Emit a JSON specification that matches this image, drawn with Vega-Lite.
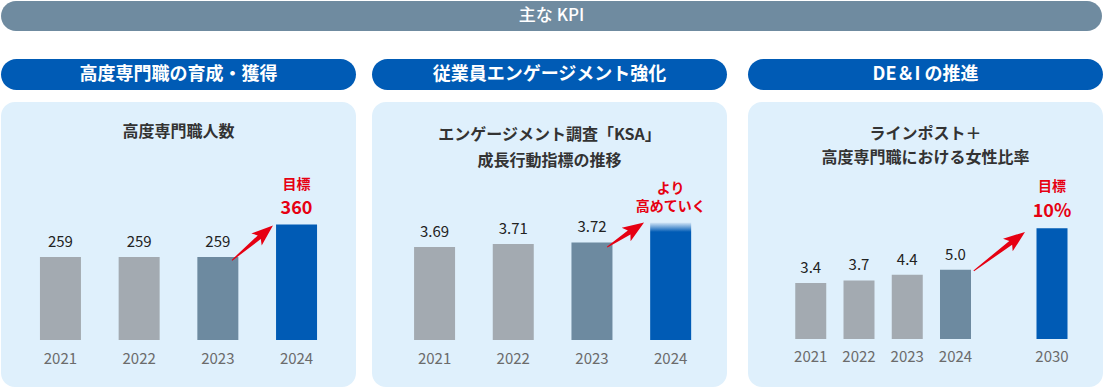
{
  "$schema": "https://vega.github.io/schema/vega-lite/v6.json",
  "padding": {"left": 1, "top": 1, "right": 0, "bottom": 0},
  "spacing": 28,
  "config": {
    "view": {"stroke": null},
    "font": "Noto Sans CJK JP",
    "axis": {"grid": false},
    "axisX": {"title": null, "domain": false, "ticks": false, "labelPadding": 0, "labelBaseline": "alphabetic", "labelFontSize": 15, "labelColor": "#6b6b6b", "labelAngle": 0, "labelFont": "Noto Sans CJK JP"},
    "title": {"fontSize": 16, "fontWeight": "bold", "color": "#333333", "anchor": "middle", "frame": "group", "lineHeight": 25, "font": "Noto Sans CJK JP"}
  },
  "vconcat": [
    {
      "width": 1101, "height": 30,
      "view": {"fill": "#6f8ba0", "cornerRadius": 15, "stroke": null},
      "data": {"values": [{"label": "主な KPI"}]},
      "mark": {"type": "text", "color": "white", "fontSize": 17, "fontWeight": 500, "baseline": "middle"},
      "encoding": {"text": {"field": "label"}}
    },
    {
      "spacing": 21,
      "hconcat": [
        {
          "spacing": 16,
          "hconcat": [
            {
              "spacing": 12,
              "vconcat": [
                {
                  "width": 355, "height": 31,
                  "view": {"fill": "#005bb5", "cornerRadius": 15.5, "stroke": null},
                  "data": {"values": [{"label": "高度専門職の育成・獲得"}]},
                  "mark": {"type": "text", "color": "white", "fontSize": 18, "fontWeight": "bold", "baseline": "middle"},
                  "encoding": {"text": {"field": "label"}}
                },
                {
                  "width": 355, "height": 285,
                  "view": {"fill": "#dff0fc", "cornerRadius": 14, "stroke": null},
                  "title": {"text": "高度専門職人数", "offset": -38},
                  "data": {"values": [
                    {"year": "2021", "value": 259, "label": "259", "status": "実績"},
                    {"year": "2022", "value": 259, "label": "259", "status": "実績"},
                    {"year": "2023", "value": 259, "label": "259", "status": "最新"},
                    {"year": "2024", "value": 360, "label": "360", "status": "目標", "note": "目標"}
                  ]},
                  "encoding": {
                    "x": {"field": "year", "type": "nominal", "scale": {"paddingInner": 0.479, "paddingOuter": 0.495, "align": 0.5}, "axis": {"offset": -24}},
                    "y": {"field": "value", "type": "quantitative", "scale": {"domain": [-146.6, 742.4]}, "axis": null}
                  },
                  "layer": [
                    {"mark": {"type": "bar"}, "encoding": {"y2": {"datum": 0}, "color": {"field": "status", "type": "nominal", "scale": {"domain": ["実績", "最新", "目標"], "range": ["#a3aab1", "#6d8aa0", "#005bb5"]}, "legend": null}}},
                    {"transform": [{"filter": "datum.status != '目標'"}], "mark": {"type": "text", "baseline": "alphabetic", "dy": -10, "fontSize": 15, "color": "#222222"}, "encoding": {"text": {"field": "label"}}},
                    {"transform": [{"filter": "datum.status == '目標'"}], "mark": {"type": "text", "baseline": "alphabetic", "dy": -11, "fontSize": 18, "fontWeight": "bold", "color": "#e60012"}, "encoding": {"text": {"field": "label"}}},
                    {"transform": [{"filter": "datum.status == '目標'"}], "mark": {"type": "text", "baseline": "alphabetic", "dy": -36, "fontSize": 14, "fontWeight": "bold", "color": "#e60012"}, "encoding": {"text": {"field": "note"}}},
                    {"transform": [{"filter": "datum.status == '目標'"}], "mark": {"type": "point", "shape": "M0,0L0.78,2.1L0.23,1.75L0.05,5.24L-0.05,5.24L-0.23,1.75L-0.78,2.1Z", "size": 420, "angle": 49.7, "filled": true, "color": "#e60012", "opacity": 1, "strokeWidth": 0, "xOffset": -23.6, "yOffset": 1}}
                  ]
                }
              ]
            },
            {
              "spacing": 12,
              "vconcat": [
                {
                  "width": 355, "height": 31,
                  "view": {"fill": "#005bb5", "cornerRadius": 15.5, "stroke": null},
                  "data": {"values": [{"label": "従業員エンゲージメント強化"}]},
                  "mark": {"type": "text", "color": "white", "fontSize": 18, "fontWeight": "bold", "baseline": "middle"},
                  "encoding": {"text": {"field": "label"}}
                },
                {
                  "width": 355, "height": 285,
                  "view": {"fill": "#dff0fc", "cornerRadius": 14, "stroke": null},
                  "title": {"text": ["エンゲージメント調査「KSA」", "成長行動指標の推移"], "offset": -67, "lineHeight": 25.6},
                  "data": {"values": [
                    {"year": "2021", "value": 3.69, "label": "3.69", "status": "実績"},
                    {"year": "2022", "value": 3.71, "label": "3.71", "status": "実績"},
                    {"year": "2023", "value": 3.72, "label": "3.72", "status": "最新"},
                    {"year": "2024", "value": 3.85, "label": "高めていく", "status": "目標", "note": "より"}
                  ]},
                  "encoding": {
                    "x": {"field": "year", "type": "nominal", "scale": {"paddingInner": 0.479, "paddingOuter": 0.495, "align": 0.54}, "axis": {"offset": -24}},
                    "y": {"field": "value", "type": "quantitative", "scale": {"domain": [2.775, 4.638]}, "axis": null}
                  },
                  "layer": [
                    {"transform": [{"filter": "datum.status != '目標'"}], "mark": {"type": "bar"}, "encoding": {"y2": {"datum": 3.082}, "color": {"field": "status", "type": "nominal", "scale": {"domain": ["実績", "最新", "目標"], "range": ["#a3aab1", "#6d8aa0", "#005bb5"]}, "legend": null}}},
                    {"transform": [{"filter": "datum.status == '目標'"}], "mark": {"type": "bar", "fill": {"gradient": "linear", "x1": 0, "y1": 0, "x2": 0, "y2": 1, "stops": [{"offset": 0, "color": "#d3e6f7"}, {"offset": 0.08, "color": "#005bb5"}, {"offset": 1, "color": "#005bb5"}]}}, "encoding": {"y2": {"datum": 3.082}}},
                    {"transform": [{"filter": "datum.status != '目標'"}], "mark": {"type": "text", "baseline": "alphabetic", "dy": -10, "fontSize": 15, "color": "#222222"}, "encoding": {"text": {"field": "label"}}},
                    {"transform": [{"filter": "datum.status == '目標'"}], "mark": {"type": "text", "baseline": "alphabetic", "dy": -11.5, "fontSize": 14, "fontWeight": "bold", "color": "#e60012"}, "encoding": {"text": {"field": "label"}}},
                    {"transform": [{"filter": "datum.status == '目標'"}], "mark": {"type": "text", "baseline": "alphabetic", "dy": -29.5, "fontSize": 14, "fontWeight": "bold", "color": "#e60012"}, "encoding": {"text": {"field": "note"}}},
                    {"transform": [{"filter": "datum.status == '目標'"}], "mark": {"type": "point", "shape": "M0,0L0.78,2.1L0.23,1.75L0.05,4.33L-0.05,4.33L-0.23,1.75L-0.78,2.1Z", "size": 420, "angle": 56.3, "filled": true, "color": "#e60012", "opacity": 1, "strokeWidth": 0, "xOffset": -26.6, "yOffset": 0}}
                  ]
                }
              ]
            }
          ]
        },
        {
          "spacing": 12,
          "vconcat": [
            {
              "width": 355, "height": 31,
              "view": {"fill": "#005bb5", "cornerRadius": 15.5, "stroke": null},
              "data": {"values": [{"label": "DE＆I の推進"}]},
              "mark": {"type": "text", "color": "white", "fontSize": 18, "fontWeight": "bold", "baseline": "middle"},
              "encoding": {"text": {"field": "label"}}
            },
            {
              "width": 355, "height": 285,
              "view": {"fill": "#dff0fc", "cornerRadius": 14, "stroke": null},
              "title": {"text": ["ラインポスト＋", "高度専門職における女性比率"], "offset": -64, "lineHeight": 24.5},
              "data": {"values": [
                {"year": "2021", "value": 3.4, "label": "3.4", "status": "実績"},
                {"year": "2022", "value": 3.7, "label": "3.7", "status": "実績"},
                {"year": "2023", "value": 4.4, "label": "4.4", "status": "実績"},
                {"year": "2024", "value": 5.0, "label": "5.0", "status": "最新"},
                {"year": "2030", "value": 10, "label": "10%", "status": "目標", "note": "目標"}
              ]},
              "encoding": {
                "x": {"field": "year", "type": "nominal", "scale": {"domain": ["2021", "2022", "2023", "2024", " ", "2030"], "paddingInner": 0.3575, "paddingOuter": 0.8575, "align": 0.571}, "axis": {"offset": -26}},
                "y": {"field": "value", "type": "quantitative", "scale": {"domain": [-9.167, 25.25]}, "axis": null}
              },
              "layer": [
                {"mark": {"type": "bar"}, "encoding": {"y2": {"datum": -3.37}, "color": {"field": "status", "type": "nominal", "scale": {"domain": ["実績", "最新", "目標"], "range": ["#a3aab1", "#6d8aa0", "#005bb5"]}, "legend": null}}},
                {"transform": [{"filter": "datum.status != '目標'"}], "mark": {"type": "text", "baseline": "alphabetic", "dy": -10, "fontSize": 15, "color": "#222222"}, "encoding": {"text": {"field": "label"}}},
                {"transform": [{"filter": "datum.status == '目標'"}], "mark": {"type": "text", "baseline": "alphabetic", "dy": -11.5, "fontSize": 18, "fontWeight": "bold", "color": "#e60012"}, "encoding": {"text": {"field": "label"}}},
                {"transform": [{"filter": "datum.status == '目標'"}], "mark": {"type": "text", "baseline": "alphabetic", "dy": -37, "fontSize": 14, "fontWeight": "bold", "color": "#e60012"}, "encoding": {"text": {"field": "note"}}},
                {"transform": [{"filter": "datum.status == '目標'"}], "mark": {"type": "point", "shape": "M0,0L0.78,2.1L0.23,1.75L0.05,6.28L-0.05,6.28L-0.23,1.75L-0.78,2.1Z", "size": 420, "angle": 52.8, "filled": true, "color": "#e60012", "opacity": 1, "strokeWidth": 0, "xOffset": -27, "yOffset": 3.7}}
              ]
            }
          ]
        }
      ]
    }
  ]
}
